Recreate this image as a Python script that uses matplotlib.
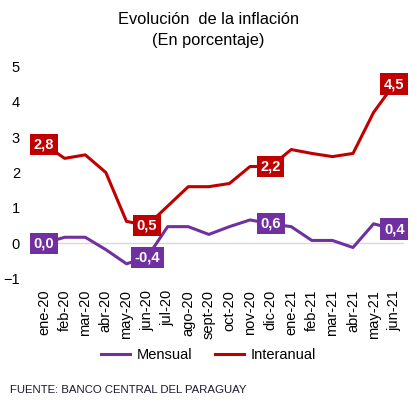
import matplotlib.pyplot as plt
import numpy as np

plt.rcParams["font.family"] = ["Liberation Sans", "DejaVu Sans"]

months = ["ene-20", "feb-20", "mar-20", "abr-20", "may-20", "jun-20",
          "jul-20", "ago-20", "sept-20", "oct-20", "nov-20", "dic-20",
          "ene-21", "feb-21", "mar-21", "abr-21", "may-21", "jun-21"]
mensual = [0.0, 0.17, 0.17, -0.18, -0.58, -0.4, 0.47, 0.47, 0.25, 0.47,
           0.66, 0.55, 0.47, 0.08, 0.08, -0.12, 0.55, 0.4]
interanual = [2.8, 2.4, 2.5, 2.0, 0.62, 0.5, 1.05, 1.6, 1.6, 1.69, 2.17,
              2.17, 2.65, 2.54, 2.45, 2.54, 3.7, 4.5]
labels_at = [0, 5, 11, 17]
mensual_txt = ["0,0", "-0,4", "0,6", "0,4"]
interanual_txt = ["2,8", "0,5", "2,2", "4,5"]

purple = "#7030A0"
red = "#C00000"

fig = plt.figure(figsize=(4.17, 4.05), dpi=100)
ax = fig.add_axes([0.081, 0.312, 0.889, 0.524])
x = np.arange(len(months))

ax.axhline(0, color="#d9d9d9", lw=1, zorder=1)
ax.plot(x, mensual, color=purple, lw=2.2, label="Mensual", zorder=2)
ax.plot(x, interanual, color=red, lw=2.2, label="Interanual", zorder=2)

for i, mt, it in zip(labels_at, mensual_txt, interanual_txt):
    ax.text(x[i], mensual[i], mt, color="white", fontsize=10.5, fontweight="bold",
            ha="center", va="center", zorder=3,
            bbox=dict(boxstyle="square,pad=0.25", fc=purple, ec="none"))
    ax.text(x[i], interanual[i], it, color="white", fontsize=10.5, fontweight="bold",
            ha="center", va="center", zorder=3,
            bbox=dict(boxstyle="square,pad=0.25", fc=red, ec="none"))

ax.set_xlim(-0.5, len(months) - 0.5)
ax.set_ylim(-1, 5)
ax.set_yticks(range(-1, 6))
ax.set_xticks(x)
ax.set_xticklabels(months, rotation=90)
ax.tick_params(axis="both", length=0, labelsize=10.5)
ax.tick_params(axis="y", pad=10)
ax.tick_params(axis="x", pad=8)
for s in ax.spines.values():
    s.set_visible(False)

fig.text(0.5, 0.926, "Evolución  de la inflación\n(En porcentaje)", ha="center",
         va="center", fontsize=11.8, linespacing=1.5)

fig.legend(loc="center", bbox_to_anchor=(0.5, 0.123), ncol=2, frameon=False,
           fontsize=10.5, handlelength=2.0, columnspacing=1.5, handletextpad=0.5)

fig.text(0.024, 0.037, "FUENTE: BANCO CENTRAL DEL PARAGUAY", fontsize=8.2,
         color="#1a1a2e", ha="left", va="center")

fig.savefig("out.png", dpi=100)
